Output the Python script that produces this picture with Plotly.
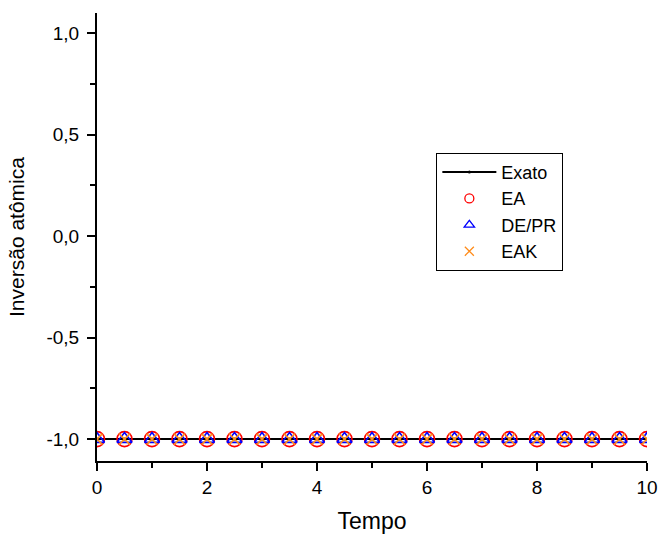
import plotly.graph_objects as go

# Time samples and atomic inversion values for each method
tempo = [0.0, 0.5, 1.0, 1.5, 2.0, 2.5, 3.0, 3.5, 4.0, 4.5, 5.0,
         5.5, 6.0, 6.5, 7.0, 7.5, 8.0, 8.5, 9.0, 9.5, 10.0]
exato = [-1.0] * len(tempo)
ea = [-1.0, -1.0, -1.0, -1.0, -1.0, -1.0, -1.0, -1.0, -1.0, -1.0, -1.0,
      -1.0, -1.0, -1.0, -1.0, -1.0, -1.0, -1.0, -1.0, -1.0, -1.0]
de_pr = [-1.0, -1.0, -1.0, -1.0, -1.0, -1.0, -1.0, -1.0, -1.0, -1.0, -1.0,
         -1.0, -1.0, -1.0, -1.0, -1.0, -1.0, -1.0, -1.0, -1.0, -1.0]
eak = [-1.0, -1.0, -1.0, -1.0, -1.0, -1.0, -1.0, -1.0, -1.0, -1.0, -1.0,
       -1.0, -1.0, -1.0, -1.0, -1.0, -1.0, -1.0, -1.0, -1.0, -1.0]

x_ticks = [0, 2, 4, 6, 8, 10]
y_ticks = [-1.0, -0.5, 0.0, 0.5, 1.0]
y_tick_labels = ["-1,0", "-0,5", "0,0", "0,5", "1,0"]

series = [
    # name, values, mode, marker (plot), marker (legend), line
    ("Exato", exato, "lines+markers",
     dict(symbol="circle", size=3, color="black"),
     dict(symbol="circle", size=3, color="black"),
     dict(color="black", width=2)),
    ("EA", ea, "markers",
     dict(symbol="circle-open", size=15, color="#ff0000", line=dict(width=1.6)),
     dict(symbol="circle-open", size=9, color="#ff0000", line=dict(width=1.3)),
     None),
    ("DE/PR", de_pr, "markers",
     dict(symbol="triangle-up-open", size=13, color="#0000ff", line=dict(width=1.6)),
     dict(symbol="triangle-up-open", size=9, color="#0000ff", line=dict(width=1.3)),
     None),
    ("EAK", eak, "markers",
     dict(symbol="x-thin-open", size=11, color="#ff8c1a", line=dict(width=1.6)),
     dict(symbol="x-thin-open", size=9, color="#ff8c1a", line=dict(width=1.3)),
     None),
]

fig = go.Figure()
for name, values, mode, mk, mk_leg, ln in series:
    fig.add_trace(go.Scatter(
        x=tempo, y=values, name=name, mode=mode, marker=mk, line=ln,
        showlegend=False, legendgroup=name))
for name, values, mode, mk, mk_leg, ln in series:
    # legend entries with smaller symbols
    fig.add_trace(go.Scatter(
        x=[None], y=[None], name=name, mode=mode, marker=mk_leg, line=ln,
        showlegend=True, legendgroup=name))

axis_font = dict(family="Liberation Sans, Arial, sans-serif", size=19, color="black")

fig.update_layout(
    width=660, height=534,
    margin=dict(l=97, r=13, t=13, b=73),
    paper_bgcolor="white", plot_bgcolor="white",
    separators=",.",
    font=dict(family="Liberation Sans, Arial, sans-serif", color="black"),
    showlegend=True,
    legend=dict(
        x=0.617, y=0.688, xanchor="left", yanchor="top",
        bordercolor="black", borderwidth=1, bgcolor="white",
        font=dict(size=18, color="black"),
        itemwidth=54, tracegroupgap=0),
    xaxis=dict(
        range=[0, 10], tickvals=x_ticks, tickformat="d", automargin=False,
        ticks="outside", ticklen=8, tickwidth=1.5, tickcolor="black",
        showline=True, linecolor="black", linewidth=2, mirror=False,
        showgrid=False, zeroline=False, tickfont=axis_font,
        minor=dict(ticks="outside", tickvals=[1, 3, 5, 7, 9], ticklen=5,
                   tickwidth=1.5, tickcolor="black", showgrid=False),
        title=dict(text="Tempo", font=dict(size=23), standoff=18)),
    yaxis=dict(
        range=[-1.108, 1.099], tickvals=y_ticks, ticktext=y_tick_labels,
        automargin=False, ticklabelstandoff=4,
        ticks="outside", ticklen=8, tickwidth=1.5, tickcolor="black",
        showline=True, linecolor="black", linewidth=2, mirror=False,
        showgrid=False, zeroline=False, tickfont=axis_font,
        minor=dict(ticks="outside", tickvals=[-0.75, -0.25, 0.25, 0.75],
                   ticklen=5, tickwidth=1.5, tickcolor="black", showgrid=False),
        title=dict(text="Inversão atômica", font=dict(size=21), standoff=16)),
)

fig.write_html("out.html")
